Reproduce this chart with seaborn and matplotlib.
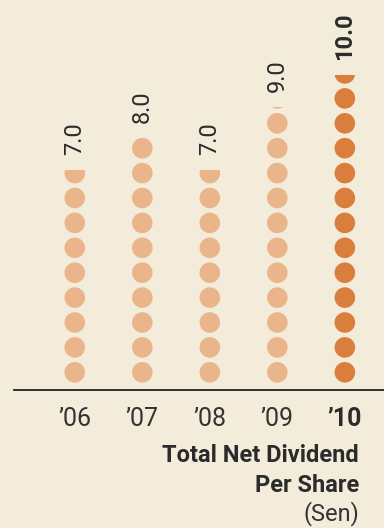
import numpy as np
import pandas as pd
import matplotlib
matplotlib.use("Agg")
import matplotlib.pyplot as plt
import seaborn as sns

# Data
years = ["\u201906", "\u201907", "\u201908", "\u201909", "\u201910"]
dividends = [7.0, 8.0, 7.0, 9.0, 10.0]
value_labels = ["7.0", "8.0", "7.0", "9.0", "10.0"]
highlight_year = "\u201910"

# Style
BG = "#F4ECDB"
LIGHT = "#EBB58C"
DARK = "#D97E3C"
INK = "#2B2B2B"
FS = 17

sns.set_theme(style="white")
plt.rcParams["font.family"] = ["Roboto", "DejaVu Sans"]

df = pd.DataFrame({"year": years, "sen": dividends})

W, H = 384, 528
fig = plt.figure(figsize=(W / 100, H / 100), dpi=100, facecolor=BG)
base_px = 390.3
left_px = 14
ax = fig.add_axes([left_px / W, 1 - base_px / H, 1 - left_px / W, base_px / H])
ax.set_facecolor(BG)

# Bars act as masks for the stacked dots
sns.barplot(data=df, x="year", y="sen", ax=ax, width=0.4, color=LIGHT,
            saturation=1, errorbar=None)

px_per_unit = 31.5
ax.set_ylim(0, base_px / px_per_unit)
ax.set_xlim(-0.9, 4.58)

dot_pitch = 24.9 / px_per_unit
dot_offset = (base_px - 372.3) / px_per_unit
dot_radius = 10.3 / px_per_unit
dot_size = (20.6 * 0.72) ** 2

for patch, year, val, lab in zip(ax.patches, years, dividends, value_labels):
    patch.set_facecolor("none")
    patch.set_edgecolor("none")
    xc = patch.get_x() + patch.get_width() / 2
    centers = []
    c = dot_offset
    while c - dot_radius < patch.get_height():
        centers.append(c)
        c += dot_pitch
    color = DARK if year == highlight_year else LIGHT
    sc = ax.scatter([xc] * len(centers), centers, s=dot_size, color=color,
                    edgecolors="none", zorder=3)
    sc.set_clip_path(patch)
    bold = year == highlight_year
    ax.annotate(lab, xy=(xc, val), xytext=(0, 11), textcoords="offset points",
                rotation=90, ha="center", va="bottom", fontsize=FS, color=INK,
                fontweight="bold" if bold else "normal")

for s in ["top", "right", "left"]:
    ax.spines[s].set_visible(False)
ax.spines["bottom"].set_color("#222222")
ax.spines["bottom"].set_linewidth(1.3)
ax.set_yticks([])
ax.set_xlabel("")
ax.set_ylabel("")
ax.tick_params(axis="x", length=0, pad=12, labelsize=18, labelcolor="#333333")
for tl in ax.get_xticklabels():
    if tl.get_text() == highlight_year:
        tl.set_fontweight("bold")
        tl.set_color(INK)

tx = 359 / W
fig.text(tx, 1 - 455 / H, "Total Net Dividend", ha="right", va="center",
         fontsize=FS, fontweight="bold", color=INK)
fig.text(tx, 1 - 485 / H, "Per Share", ha="right", va="center",
         fontsize=FS, fontweight="bold", color=INK)
fig.text(tx, 1 - 514 / H, "(Sen)", ha="right", va="center",
         fontsize=FS, color="#333333")

fig.savefig("out.png", dpi=100, facecolor=BG)
